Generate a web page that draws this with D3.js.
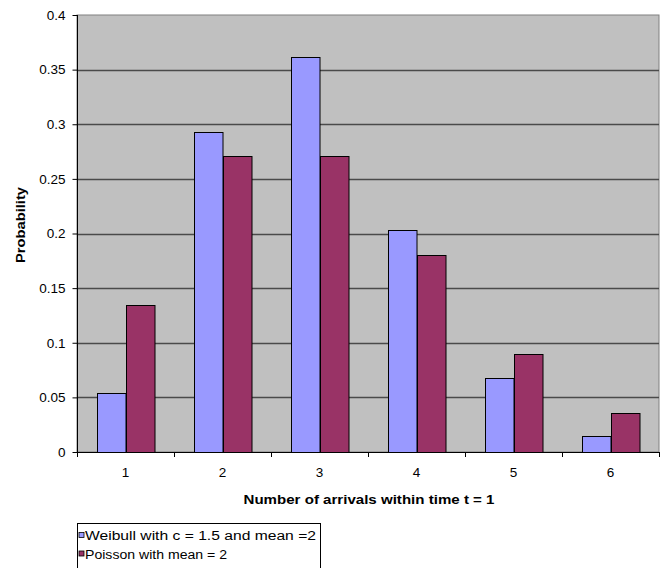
<!DOCTYPE html>
<html><head><meta charset="utf-8">
<script src="https://cdn.jsdelivr.net/npm/d3@7"></script>
<style>body{margin:0;background:#fff;} text{font-family:"Liberation Sans",Arial,sans-serif;}</style>
</head><body>
<svg id="c" width="669" height="568"></svg>
<script>
const categories = ["1","2","3","4","5","6"];
const weibull = [0.054, 0.293, 0.362, 0.203, 0.068, 0.015];
const poisson = [0.135, 0.271, 0.271, 0.180, 0.090, 0.036];
const seriesNames = ["Weibull with c = 1.5 and mean =2", "Poisson with mean = 2"];
const yTicks = [0, 0.05, 0.1, 0.15, 0.2, 0.25, 0.3, 0.35, 0.4];
const colors = ["#9999FF", "#993366"];

const svg = d3.select("#c");
const L = 77, R = 659, T = 15, B = 452;
const x = d3.scaleBand().domain(categories).range([L, R]).paddingInner(0).paddingOuter(0);
const y = d3.scaleLinear().domain([0, 0.4]).range([B, T]);

svg.append("rect").attr("x", L).attr("y", T).attr("width", R - L).attr("height", B - T)
  .attr("fill", "#c0c0c0").attr("stroke", "#808080").attr("stroke-width", 1);

// gridlines
svg.append("g").selectAll("line").data(yTicks.filter(d => d > 0 && d < 0.4)).join("line")
  .attr("x1", L).attr("x2", R).attr("y1", d => Math.round(y(d)) + 0.5).attr("y2", d => Math.round(y(d)) + 0.5)
  .attr("stroke", "#4a4a4a").attr("stroke-width", 1.5);

const series = [weibull, poisson];
const bw = x.bandwidth();
const groupW = bw * 57 / 97;
const sub = d3.scaleBand().domain([0, 1]).range([(bw - groupW) / 2, (bw + groupW) / 2]);

series.forEach((vals, si) => {
  svg.append("g").selectAll("rect").data(vals).join("rect")
    .attr("x", (d, i) => Math.round(x(categories[i]) + sub(si)) + 0.5)
    .attr("y", d => Math.round(y(d)) + 0.5)
    .attr("width", sub.bandwidth())
    .attr("height", d => B - Math.round(y(d)))
    .attr("fill", colors[si]).attr("stroke", "#000").attr("stroke-width", 1);
});

// y axis
const yAxis = d3.axisLeft(y).tickValues(yTicks).tickFormat(d => String(+d.toFixed(2))).tickSize(5).tickPadding(7);
const gy = svg.append("g").attr("transform", `translate(${L + 0.5},0)`).call(yAxis);
gy.select(".domain").attr("stroke", "#000").attr("d", `M0,${T}V${B}`);
gy.selectAll("text").attr("font-size", 13.5).attr("fill", "#000").attr("font-family", "Liberation Sans, Arial, sans-serif");

// x axis
const xAxis = d3.axisBottom(x).tickSize(0).tickPadding(15);
const gx = svg.append("g").attr("transform", `translate(0,${B + 0.5})`).call(xAxis);
gx.select(".domain").attr("stroke", "#000").attr("d", `M${L},0H${R}`);
gx.selectAll("text").attr("font-size", 13.5).attr("fill", "#000").attr("font-family", "Liberation Sans, Arial, sans-serif");
// tick marks at category boundaries
svg.append("g").selectAll("line").data(categories.concat(["end"])).join("line")
  .attr("x1", (d, i) => Math.round(L + i * bw) + 0.5).attr("x2", (d, i) => Math.round(L + i * bw) + 0.5)
  .attr("y1", B).attr("y2", B + 5).attr("stroke", "#000");

// titles
svg.append("text").attr("x", 243.5).attr("y", 503.5)
  .attr("font-size", 12.5).attr("font-weight", "bold")
  .attr("textLength", 251).attr("lengthAdjust", "spacingAndGlyphs")
  .text("Number of arrivals within time  t = 1");
svg.append("text").attr("transform", `translate(25,263) rotate(-90)`)
  .attr("font-size", 12.5).attr("font-weight", "bold")
  .attr("textLength", 76).attr("lengthAdjust", "spacingAndGlyphs")
  .text("Probability");

// legend
const lg = svg.append("g");
lg.append("rect").attr("x", 77.5).attr("y", 523.5).attr("width", 243).attr("height", 60).attr("fill", "#fff").attr("stroke", "#000");
const legendLens = [231, 142];
seriesNames.forEach((n, i) => {
  const base = 540 + i * 18.5;
  lg.append("rect").attr("x", 79).attr("y", base - 7.5).attr("width", 5).attr("height", 5).attr("fill", colors[i]).attr("stroke", "#000").attr("stroke-width", 0.8);
  lg.append("text").attr("x", 85).attr("y", base).attr("font-size", 12.5)
    .attr("textLength", legendLens[i]).attr("lengthAdjust", "spacingAndGlyphs").text(n);
});
</script>
</body></html>
